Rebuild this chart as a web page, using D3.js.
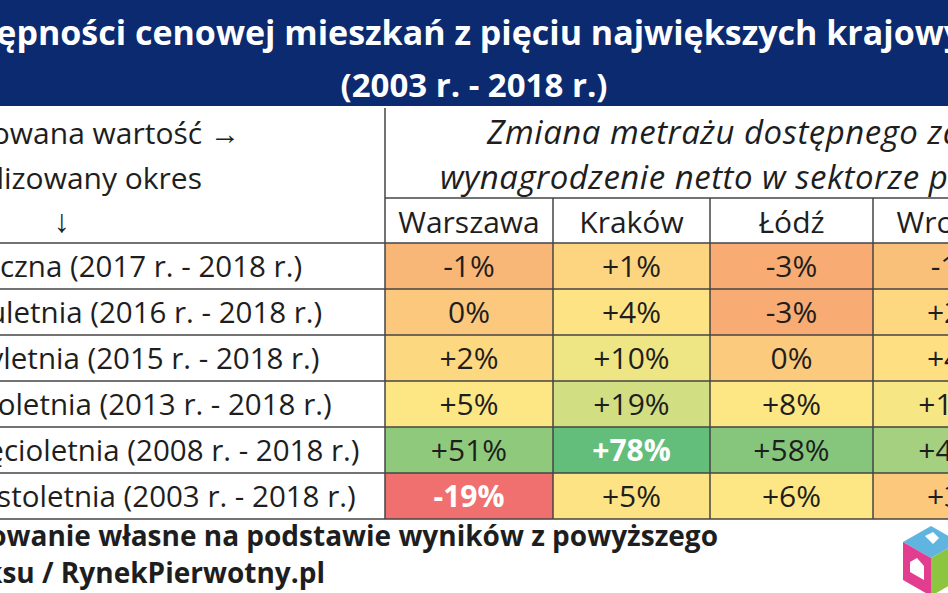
<!DOCTYPE html>
<html><head><meta charset="utf-8">
<script src="https://cdn.jsdelivr.net/npm/d3@7/dist/d3.min.js"></script>
<style>body{margin:0;background:#fff;overflow:hidden}svg{display:block;font-family:"Open Sans",sans-serif}</style>
</head><body><svg width="948" height="593"></svg>
<script>
// Tabela dostępności cenowej – wycinek, tekst obcięty na krawędziach jak w oryginale
const titleLines = ["Indeks dostępności cenowej mieszkań z pięciu największych krajowych", "(2003 r. - 2018 r.)"];
const cities = ["Warszawa", "Kraków", "Łódź", "Wrocław"];
const periods = [
  "Roczna (2017 r. - 2018 r.)",
  "Dwuletnia (2016 r. - 2018 r.)",
  "Trzyletnia (2015 r. - 2018 r.)",
  "Pięcioletnia (2013 r. - 2018 r.)",
  "Dziesięcioletnia (2008 r. - 2018 r.)",
  "Piętnastoletnia (2003 r. - 2018 r.)"
];
const values = [
  [-1, 1, -3, -1],
  [0, 4, -3, 2],
  [2, 10, 0, 4],
  [5, 19, 8, 13],
  [51, 78, 58, 45],
  [-19, 5, 6, 3]
];
const fills = [
  ["#f9b777", "#fdd581", "#f8ab72", "#f9c07a"],
  ["#fbc87d", "#fde383", "#f8ab72", "#fdd880"],
  ["#fcd881", "#eee584", "#fbca7d", "#fee083"],
  ["#fde784", "#d2de82", "#fde784", "#f6e784"],
  ["#8fca7c", "#63be7b", "#86c67c", "#a5d07f"],
  ["#f07070", "#fde383", "#fde784", "#fbc87c"]
];

const svg = d3.select("svg");
const navy = "#0b2a6f";
const ink = "#1e1e1e";

// Pasek tytułu
svg.append("rect").attr("x", 0).attr("y", 0).attr("width", 948).attr("height", 106).attr("fill", navy);
svg.append("text").attr("x", 1003).attr("y", 45).attr("text-anchor", "end")
  .attr("fill", "#fff").style("font-size", "34px").style("font-weight", "bold").text(titleLines[0]);
svg.append("text").attr("x", 474).attr("y", 97).attr("text-anchor", "middle")
  .attr("fill", "#fff").style("font-size", "33px").style("font-weight", "bold").text(titleLines[1]);

// Geometria tabeli
const colEdges = [385, 553, 710, 873, 1040];
const tableTop = 108, headH = 90;
const y = d3.scaleBand().domain(d3.range(periods.length)).range([243, 519]);

// Komórki z danymi
values.forEach((row, i) => {
  row.forEach((v, j) => {
    svg.append("rect").attr("x", colEdges[j]).attr("y", y(i))
      .attr("width", colEdges[j + 1] - colEdges[j]).attr("height", y.bandwidth())
      .attr("fill", fills[i][j]);
    const strong = (i === 4 && j === 1) || (i === 5 && j === 0);
    svg.append("text").attr("x", (colEdges[j] + colEdges[j + 1]) / 2).attr("y", y(i) + y.bandwidth() / 2 + 11)
      .attr("text-anchor", "middle").style("font-size", "30px")
      .style("font-weight", strong ? "bold" : "normal")
      .attr("fill", strong ? "#fff" : ink)
      .text((v > 0 ? "+" : "") + v + "%");
  });
  svg.append("text").attr("x", 133).attr("y", y(i) + y.bandwidth() / 2 + 11)
    .attr("text-anchor", "middle").style("font-size", "29.5px").attr("fill", ink).text(periods[i]);
});

// Nagłówki
svg.append("text").attr("x", 240).attr("y", 144).attr("text-anchor", "end").style("font-size", "30px").attr("fill", ink).text("Analizowana wartość →");
svg.append("text").attr("x", 202).attr("y", 189).attr("text-anchor", "end").style("font-size", "30px").attr("fill", ink).text("Analizowany okres");
svg.append("text").attr("x", 62).attr("y", 232).attr("text-anchor", "middle").style("font-size", "32px").style("font-weight", "bold").attr("fill", ink).text("↓");
svg.append("text").attr("x", 487).attr("y", 144).style("font-size", "33px").style("letter-spacing", "0.5px")
  .style("font-style", "italic").attr("fill", ink).text("Zmiana metrażu dostępnego za przeciętne");
svg.append("text").attr("x", 440).attr("y", 189).style("font-size", "33px").style("letter-spacing", "0.5px")
  .style("font-style", "italic").attr("fill", ink).text("wynagrodzenie netto w sektorze prywatnym");
cities.forEach((c, j) => {
  svg.append("text").attr("x", (colEdges[j] + colEdges[j + 1]) / 2).attr("y", tableTop + headH + 35)
    .attr("text-anchor", "middle").style("font-size", "30px").attr("fill", ink).text(c);
});

// Linie siatki
const grid = svg.append("g").attr("stroke", "#444").attr("stroke-width", 1.5);
grid.append("line").attr("x1", 385).attr("x2", 948).attr("y1", tableTop + headH).attr("y2", tableTop + headH);
[243].concat(d3.range(periods.length).map(i => y(i) + y.bandwidth())).forEach(yy => {
  grid.append("line").attr("x1", 0).attr("x2", 948).attr("y1", yy).attr("y2", yy);
});
grid.append("line").attr("x1", 385).attr("x2", 385).attr("y1", tableTop).attr("y2", 519);
colEdges.slice(1, 4).forEach(xx => {
  grid.append("line").attr("x1", xx).attr("x2", xx).attr("y1", tableTop + headH).attr("y2", 519);
});

// Źródło
svg.append("text").attr("x", 718).attr("y", 546).attr("text-anchor", "end").style("font-size", "28px").style("font-weight", "bold")
  .attr("fill", ink).text("Opracowanie własne na podstawie wyników z powyższego");
svg.append("text").attr("x", 325).attr("y", 583).attr("text-anchor", "end").style("font-size", "28px").style("font-weight", "bold")
  .attr("fill", ink).text("indeksu / RynekPierwotny.pl");

// Logo (kostka)
const logo = svg.append("g").attr("transform", "translate(903,522)");
logo.append("path").attr("d", "M0,20 L28,4 L56,20 L28,36 Z").attr("fill", "#5fb4e0");
logo.append("path").attr("d", "M0,20 L28,36 L28,74 L0,58 Z").attr("fill", "#e33d8f");
logo.append("path").attr("d", "M28,36 L56,20 L56,58 L28,74 Z").attr("fill", "#8cc540");
logo.append("path").attr("d", "M7,40 L14,36 L21,44 L21,58 L7,50 Z").attr("fill", "#fff");
logo.append("path").attr("d", "M22,14 L30,10 L36,16 L30,22 Z").attr("fill", "#fff");
</script></body></html>
